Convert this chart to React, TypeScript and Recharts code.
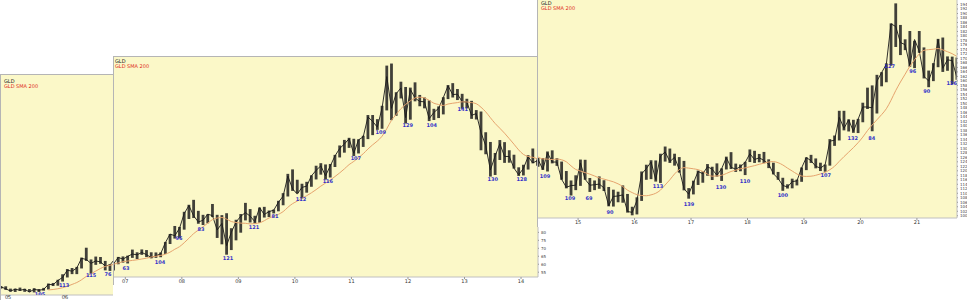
import React from 'react';
import { ComposedChart, Bar, Line, Scatter, XAxis, YAxis, CartesianGrid } from 'recharts';

// Monthly bars of GLD, first month = Nov 2004
const START_YEAR = 2004;
const START_MONTH = 11;

const high = [
  45.6, 45.5,
  43.9, 43.9, 44.6, 43.8, 43.6, 44.2, 43.6, 44.4, 47.4, 47.8, 50.0, 53.8,
  57.4, 58.1, 58.9, 65.3, 72.1, 64.0, 66.0, 65.7, 63.0, 60.7, 64.6, 64.9,
  65.4, 69.2, 67.5, 69.3, 68.9, 67.5, 67.4, 67.4, 74.0, 79.0, 84.0, 83.4,
  92.9, 97.3, 100.4, 93.5, 91.0, 91.4, 97.8, 91.0, 90.8, 92.0, 82.6, 87.9,
  91.5, 98.5, 94.6, 90.4, 95.6, 96.0, 93.7, 94.3, 99.8, 104.6, 116.7, 119.5,
  113.0, 110.5, 111.7, 115.8, 121.8, 123.4, 122.6, 122.9, 128.6, 134.5, 138.0, 139.3,
  138.7, 138.4, 140.6, 153.6, 153.6, 151.0, 159.4, 184.6, 185.9, 167.9, 174.5, 171.2,
  170.8, 174.1, 166.2, 164.6, 162.8, 157.5, 159.0, 164.8, 172.4, 173.6, 169.9, 166.9,
  163.8, 162.5, 156.7, 155.8, 142.8, 136.7, 129.8, 137.9, 136.6, 131.5, 128.7, 120.8,
  122.4, 128.4, 132.6, 125.7, 125.7, 128.6, 129.1, 125.6, 124.1, 119.9, 115.7, 118.0,
  125.0, 124.9, 116.8, 115.7, 117.5, 115.8, 112.8, 111.6, 110.7, 113.5, 109.7, 104.0,
  108.2, 119.7, 122.7, 124.7, 124.6, 127.6, 130.8, 129.9, 127.6, 126.1, 124.4, 112.3,
  115.6, 120.1, 119.7, 123.0, 121.8, 123.3, 121.1, 126.3, 128.3, 123.2, 122.8, 124.0,
  129.5, 128.9, 127.5, 128.4, 125.1, 123.6, 119.5, 116.9, 114.0, 116.5, 116.1, 121.5,
  126.0, 127.1, 125.5, 123.6, 122.8, 134.1, 135.7, 146.7, 146.7, 142.9, 142.7, 143.1,
  150.3, 157.0, 158.0, 162.7, 163.9, 167.8, 185.6, 194.5, 184.9, 178.5, 182.2, 177.8,
  182.2, 174.9, 164.6, 167.9, 178.7, 179.3, 170.9, 170.8, 170.4,
];

const low = [
  43.9, 43.0,
  41.8, 41.6, 42.3, 41.7, 41.5, 41.3, 41.6, 42.5, 43.3, 45.7, 45.9, 48.8,
  51.6, 53.9, 53.9, 57.8, 63.0, 54.2, 60.3, 61.0, 56.5, 56.1, 60.0, 61.0,
  60.5, 64.0, 63.3, 65.9, 64.5, 63.7, 64.0, 64.4, 66.5, 72.7, 76.1, 76.4,
  81.7, 88.4, 89.0, 85.4, 84.6, 85.7, 89.6, 76.5, 72.5, 66.0, 68.9, 75.0,
  79.8, 87.5, 86.2, 85.6, 86.0, 89.3, 89.6, 91.9, 93.2, 97.0, 102.5, 106.0,
  104.6, 101.3, 104.9, 108.6, 113.2, 116.2, 113.1, 114.4, 121.0, 127.0, 130.0, 133.0,
  127.9, 129.5, 133.6, 138.5, 141.0, 144.3, 145.0, 156.5, 150.4, 153.1, 164.0, 148.3,
  150.7, 162.2, 159.1, 157.8, 149.8, 150.5, 151.7, 154.0, 163.6, 164.6, 163.0, 157.5,
  157.8, 151.2, 150.8, 131.5, 129.0, 115.0, 116.0, 125.4, 123.6, 123.7, 120.0, 115.4,
  115.7, 119.4, 123.3, 121.8, 120.4, 119.7, 123.3, 122.2, 116.0, 112.2, 109.0, 111.4,
  113.3, 116.0, 110.6, 111.4, 112.0, 111.0, 104.2, 104.1, 106.0, 105.8, 101.4, 100.2,
  100.6, 106.6, 116.0, 116.3, 115.2, 114.6, 124.1, 123.5, 122.3, 119.2, 111.3, 107.6,
  109.5, 113.7, 114.7, 117.8, 115.9, 117.4, 115.5, 120.6, 120.8, 119.5, 119.8, 118.1,
  123.9, 123.5, 123.8, 123.4, 121.2, 118.4, 116.0, 111.1, 112.1, 112.2, 113.5, 115.1,
  120.3, 123.5, 121.1, 119.9, 119.6, 122.3, 131.1, 133.5, 138.0, 137.5, 136.9, 136.8,
  141.6, 147.5, 137.6, 145.5, 157.6, 159.4, 166.8, 175.1, 171.5, 173.7, 166.3, 165.7,
  172.5, 161.1, 157.2, 159.9, 166.1, 164.0, 164.5, 158.6, 160.5,
];

const close = [
  45.1, 43.8,
  42.2, 43.5, 42.8, 43.4, 41.6, 43.4, 42.8, 43.3, 46.8, 46.6, 49.5, 51.6,
  56.6, 55.9, 58.1, 64.8, 64.0, 61.3, 63.0, 62.3, 59.5, 60.2, 64.3, 63.2,
  64.9, 66.4, 65.9, 67.4, 66.0, 64.2, 65.3, 66.6, 73.5, 78.9, 77.9, 82.5,
  91.8, 96.8, 90.4, 86.5, 87.6, 91.4, 90.5, 81.5, 85.6, 71.7, 80.0, 86.5,
  90.1, 92.4, 90.2, 86.7, 95.5, 91.2, 93.0, 93.9, 98.9, 102.7, 115.3, 107.3,
  104.0, 108.2, 109.0, 115.4, 118.9, 121.7, 115.5, 121.6, 127.9, 132.6, 135.4, 138.7,
  129.6, 138.0, 139.9, 152.4, 149.6, 146.0, 158.0, 177.7, 157.8, 167.0, 170.6, 152.0,
  169.6, 164.3, 162.1, 161.9, 151.3, 155.2, 157.8, 164.5, 171.9, 166.4, 166.7, 162.0,
  161.7, 153.4, 154.5, 142.6, 134.4, 119.1, 127.9, 135.6, 127.6, 127.6, 120.3, 116.1,
  120.1, 127.4, 123.6, 125.0, 120.6, 128.0, 123.9, 123.9, 116.2, 112.7, 113.4, 113.6,
  123.5, 116.2, 113.6, 113.8, 114.1, 112.4, 104.5, 108.6, 108.8, 109.3, 101.9, 101.5,
  106.7, 118.6, 121.0, 123.9, 116.1, 126.5, 128.4, 124.1, 126.0, 120.6, 112.1, 109.6,
  114.6, 119.7, 118.7, 121.8, 120.7, 118.0, 120.9, 125.8, 121.6, 120.7, 121.9, 123.7,
  127.6, 125.0, 125.8, 124.6, 123.0, 118.7, 116.6, 113.5, 112.8, 115.2, 115.5, 121.3,
  125.9, 124.5, 122.0, 121.2, 122.7, 133.2, 133.6, 143.8, 138.9, 142.7, 137.6, 142.9,
  148.4, 148.4, 148.0, 159.9, 163.7, 167.4, 185.4, 184.2, 177.1, 176.1, 166.7, 178.4,
  173.3, 162.0, 160.0, 166.1, 178.4, 165.6, 169.4, 169.0, 161.5,
];

const sma200 = [
  null, null,
  null, null, null, null, null, null, null, null, 43.0, 43.3, 43.8, 44.5,
  45.5, 46.8, 48.1, 50.0, 52.3, 54.2, 56.0, 57.8, 59.2, 60.0, 60.8, 61.6,
  62.0, 62.4, 62.8, 63.3, 63.8, 64.5, 65.0, 65.5, 66.3, 67.6, 69.4, 71.0,
  73.5, 76.3, 79.2, 81.4, 83.5, 85.8, 88.0, 89.0, 89.3, 88.3, 86.8, 86.2,
  85.8, 85.7, 85.3, 85.5, 86.0, 87.3, 89.0, 90.0, 91.3, 93.0, 95.7, 98.0,
  99.6, 101.3, 103.0, 104.8, 106.8, 109.0, 110.9, 112.8, 115.0, 117.3, 119.8, 122.5,
  124.5, 126.9, 129.3, 132.3, 134.9, 137.3, 140.3, 145.0, 150.3, 153.9, 157.6, 160.2,
  162.5, 164.3, 164.8, 164.3, 162.8, 161.0, 160.2, 159.6, 160.5, 161.0, 161.4, 161.9,
  161.8, 161.4, 160.7, 158.5, 155.6, 151.9, 148.3, 145.3, 142.2, 138.8, 135.3, 131.7,
  128.9, 127.6, 127.1, 126.1, 125.3, 125.2, 125.0, 125.2, 124.9, 124.0, 122.2, 120.6,
  119.9, 119.2, 118.5, 117.7, 116.8, 116.3, 115.7, 115.1, 114.2, 113.0, 111.4, 110.3,
  109.4, 109.0, 108.9, 109.3, 110.0, 111.4, 113.7, 116.0, 118.6, 120.5, 121.4, 121.2,
  120.9, 120.5, 119.7, 118.5, 117.6, 117.7, 118.0, 118.8, 119.7, 120.3, 120.9, 121.3,
  121.8, 122.3, 122.9, 123.4, 123.9, 124.1, 123.6, 122.6, 121.2, 119.9, 118.6, 117.7,
  117.5, 117.6, 118.0, 118.6, 119.3, 120.5, 122.0, 124.2, 126.3, 128.3, 130.3, 132.5,
  135.0, 137.9, 140.4, 142.7, 145.0, 147.6, 151.4, 155.7, 159.5, 163.0, 166.5, 169.4,
  172.0, 173.6, 173.9, 174.1, 174.4, 173.8, 173.0, 172.1, 170.9,
];

// Blue swing-low annotations: panel index, time (years), price, text
const labelPanel = [0, 0, 0, 0,
  1, 1, 1, 1, 1, 1, 1, 1, 1, 1, 1, 1, 1, 1, 1, 1,
  2, 2, 2, 2, 2, 2, 2, 2, 2, 2, 2, 2, 2, 2, 2, 2];
const labelT = [2005.56, 2005.985, 2006.46, 2006.757,
  2007.012, 2007.613, 2007.949, 2008.338, 2008.815, 2009.275, 2009.646, 2010.106,
  2010.583, 2011.078, 2011.52, 2011.997, 2012.42, 2012.97, 2013.50, 2014.012,
  2014.414, 2014.856, 2015.193, 2015.564, 2016.414, 2016.963, 2017.529, 2017.954,
  2018.626, 2019.387, 2019.865, 2020.20, 2020.52, 2020.927, 2021.175, 2021.617];
const labelP = [40.5, 46.4, 53.3, 54.0,
  57.6, 61.4, 76.4, 82.1, 63.9, 83.4, 90.3, 100.9,
  112.2, 126.6, 142.9, 147.3, 147.3, 157.4, 113.5, 113.5,
  117.7, 107.9, 107.9, 101.7, 113.2, 105.2, 112.8, 115.4,
  109.2, 118.1, 134.6, 134.6, 166.6, 164.4, 155.5, 159.1];
const labelText = ['105', '113', '115', '76',
  '63', '104', '96', '83', '121', '121', '81', '112',
  '116', '107', '109', '129', '104', '141', '130', '128',
  '109', '109', '69', '90', '113', '139', '130', '110',
  '100', '107', '132', '84', '127', '96', '90', '126'];

const yTicksMid = [55, 60, 65, 70, 75, 80, 85, 90, 95, 100, 105, 110, 115, 120, 125, 130, 135, 140, 145, 150, 155, 160, 165, 170, 175, 180, 185];
const yTicksLast = [100, 102, 104, 106, 108, 110, 112, 114, 116, 118, 120, 122, 124, 126, 128, 130, 132, 134, 136, 138, 140, 142, 144, 146, 148, 150, 152, 154, 156, 158, 160, 162, 164, 166, 168, 170, 172, 174, 176, 178, 180, 182, 184, 186, 188, 190, 192, 194];

const rows = high.map((h, i) => ({
  t: START_YEAR + (START_MONTH - 1 + i + 0.5) / 12,
  range: [low[i], h],
  close: close[i],
  sma: sma200[i],
}));

const labels = labelT.map((t, i) => ({ t, p: labelP[i], text: labelText[i], panel: labelPanel[i] }));

const YELLOW = '#fbf8c8';
const FONT = 'DejaVu Sans, sans-serif';

const panels = [
  { left: 0, top: 74, w: 113, h: 229, x0: 2004.875, x1: 2006.845, y0: 39.5, y1: 191.2, years: [2005, 2006], yTicks: [] as number[], axisW: 0, xAxisH: 8, tickDy: -2.5, legX: 3, legY: 4 },
  { left: 113, top: 56, w: 435, h: 229, x0: 2006.80, x1: 2014.30, y0: 52, y1: 190, years: [2007, 2008, 2009, 2010, 2011, 2012, 2013, 2014], yTicks: yTicksMid, axisW: 10, xAxisH: 8, tickDy: -1, legX: 1, legY: 2 },
  { left: 537, top: -1, w: 430, h: 228, x0: 2014.29, x1: 2021.71, y0: 99, y1: 196, years: [2015, 2016, 2017, 2018, 2019, 2020, 2021], yTicks: yTicksLast, axisW: 10, xAxisH: 9, tickDy: -1, legX: 3, legY: 1 },
];

const RangeBar = (props: any) => {
  const { x, y, width, height } = props;
  if (x == null || y == null || !isFinite(height)) return null;
  const cx = x + width / 2;
  const top = Math.min(y, y + height);
  const hgt = Math.max(1, Math.abs(height));
  return <rect x={cx - 1.4} y={top} width={2.8} height={hgt} fill="#202020" fillOpacity={0.85} />;
};

const LabelShape = (props: any) => {
  const { cx, cy, payload } = props;
  if (cx == null || cy == null) return null;
  return (
    <text x={cx} y={cy} textAnchor="middle" dominantBaseline="central" fontSize={5} fill="#3232c8" fontFamily={FONT} fontWeight="bold">
      {payload.text}
    </text>
  );
};

function Panel({ cfg, idx }: { cfg: typeof panels[0]; idx: number }) {
  const data = rows.filter((r) => r.t >= cfg.x0 - 0.1 && r.t <= cfg.x1 + 0.1);
  const lbls = labels.filter((l) => l.panel === idx);
  const cw = cfg.w - 1;
  const ch = cfg.h - 1;
  return (
    <div
      style={{
        position: 'absolute',
        left: cfg.left,
        top: cfg.top,
        width: cfg.w,
        height: cfg.h,
        boxSizing: 'border-box',
        background: '#ffffff',
        borderLeft: '1px solid #b5b5b5',
        borderTop: '1px solid #b5b5b5',
        overflow: 'hidden',
      }}
    >
      <ComposedChart width={cw} height={ch} data={data} margin={{ top: 0, right: 0, bottom: 0, left: 0 }}>
        <CartesianGrid fill={YELLOW} stroke="none" horizontal={false} vertical={false} />
        <XAxis
          dataKey="t"
          type="number"
          domain={[cfg.x0, cfg.x1]}
          allowDataOverflow
          ticks={cfg.years}
          interval={0}
          tickFormatter={(v: number) => String(Math.round(v) % 100).padStart(2, '0')}
          tick={{ fontSize: 5, fill: '#333', fontFamily: FONT, dy: cfg.tickDy }}
          tickSize={2}
          tickMargin={1}
          tickLine={{ stroke: '#999' }}
          axisLine={{ stroke: '#c0c0c0' }}
          height={cfg.xAxisH}
        />
        <YAxis
          type="number"
          orientation="right"
          domain={[cfg.y0, cfg.y1]}
          allowDataOverflow
          ticks={cfg.yTicks}
          interval={0}
          hide={cfg.axisW === 0}
          width={cfg.axisW}
          tick={{ fontSize: 4, fill: '#444', fontFamily: FONT }}
          tickSize={1}
          tickLine={{ stroke: '#999' }}
          axisLine={{ stroke: '#c0c0c0' }}
        />
        <Bar dataKey="range" fill="#202020" shape={RangeBar} isAnimationActive={false} />
        <Line dataKey="close" type="linear" stroke="#1a1a1a" strokeWidth={0.9} dot={false} activeDot={false} isAnimationActive={false} />
        <Line dataKey="sma" type="monotone" stroke="#e6a46e" strokeWidth={1} dot={false} activeDot={false} isAnimationActive={false} />
        <Scatter data={lbls} dataKey="p" shape={LabelShape} isAnimationActive={false} />
      </ComposedChart>
      <div
        style={{
          position: 'absolute',
          left: cfg.legX,
          top: cfg.legY,
          fontFamily: FONT,
          fontSize: 5,
          lineHeight: '5px',
        }}
      >
        <div style={{ color: '#222' }}>GLD</div>
        <div style={{ color: '#e02a1a' }}>GLD SMA 200</div>
      </div>
    </div>
  );
}

export default function App() {
  return (
    <div style={{ position: 'absolute', left: 0, top: 0, width: 967, height: 300, background: '#ffffff', overflow: 'hidden' }}>
      {panels.map((p, i) => (
        <Panel key={i} cfg={p} idx={i} />
      ))}
    </div>
  );
}
